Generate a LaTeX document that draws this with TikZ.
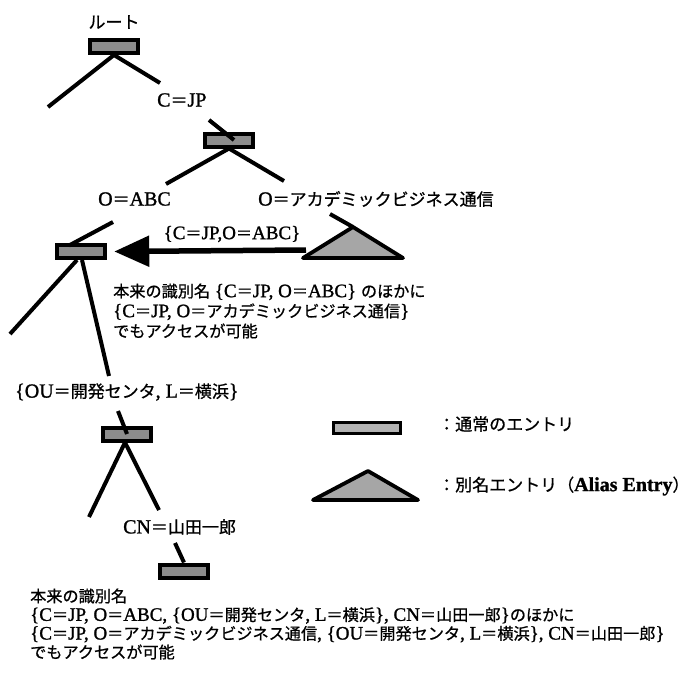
\documentclass[tikz,border=0pt]{standalone}
\usepackage{fontspec}
\setmainfont{Liberation Serif}[RawFeature={embolden=1.2}]
\newfontfamily\cjk{Noto Sans CJK JP}[Scale=0.85, RawFeature={embolden=0.8}]
\usetikzlibrary{arrows.meta,calc}
\newcommand\jp[1]{{\cjk #1}}
\newcommand\eqs{{\cjk ＝}}
\begin{document}
\begin{tikzpicture}[x=1pt,y=-1pt,
  entry/.style={draw=black, line width=4pt, fill=black!45, minimum width=48.5pt, minimum height=13pt, inner sep=0pt},
  branch/.style={line width=4pt},
  aliasent/.style={draw=black, line width=3.8pt, fill=black!35, line join=round},
  lbl/.style={font=\fontsize{20}{22}\selectfont, inner sep=0pt, anchor=west},
  note/.style={font=\fontsize{19}{20}\selectfont, inner sep=0pt, anchor=west, align=left},
]
\useasboundingbox (0,0) rectangle (699,681);

% labels and entries
\node[lbl, anchor=center] (lroot) at (114,22) {\jp{ルート}};
\node[entry] (b1) at (114,46.5) {};
\node[lbl] (lcjp) at (157,100) {C\eqs JP};
\node[entry] (b2) at (229,140) {};
\node[lbl] (labc) at (98,199) {O\eqs ABC};
\node[lbl] (laca) at (258,199) {O\eqs\jp{アカデミックビジネス通信}};
\node[entry] (b3) at (81,251.5) {};
\node[lbl, anchor=center, font=\fontsize{19}{22}\selectfont] (larrow) at (232,234) {\{C\eqs JP,O\eqs ABC\}};
\node[lbl] (lou) at (15,392) {\{OU\eqs\jp{開発センタ}, L\eqs\jp{横浜}\}};
\node[entry] (b4) at (127,434) {};
\node[lbl] (lcn) at (123,527) {CN\eqs\jp{山田一郎}};
\node[entry] (b5) at (184,571) {};

% alias entry triangle
\coordinate (t1a) at (353,227);
\coordinate (t1l) at (303,258);
\coordinate (t1r) at (403,258);
\draw[aliasent] (t1a) -- (t1r) -- (t1l) -- cycle;

% free ends of the branches
\coordinate (e1) at (48,107);
\coordinate (e2) at (160,83);
\coordinate (e3) at (209,120);
\coordinate (e4) at (166,184);
\coordinate (e5) at (284,181);
\coordinate (e6) at (330,214);
\coordinate (e7) at (113,222);
\coordinate (e8) at (10,334);
\coordinate (e9) at (109,376);
\coordinate (e10) at (118,411);
\coordinate (e11) at (89,517);
\coordinate (e12) at (159,510);
\coordinate (e13) at (175,543);
\coordinate (arrS) at (306,250);

\draw[branch] (b1.south) -- (e1);
\draw[branch] (b1.south) -- (e2);
\draw[branch] (e3) -- ($(b2.center)+(5,0)$);
\draw[branch] (b2.south) -- (e4);
\draw[branch] (b2.south) -- (e5);
\draw[branch] (e6) -- (t1a);
\draw[branch] (e7) -- ($(b3.center)+(-12,-6)$);
\draw[branch] ($(b3.south)+(-4,0)$) -- (e8);
\draw[branch] ($(b3.south)+(1,0)$) -- (e9);
\draw[branch] (e10) -- (b4.center);
\draw[branch] ($(b4.south)+(-2,0)$) -- (e11);
\draw[branch] ($(b4.south)+(-2,0)$) -- (e12);
\draw[branch] (e13) -- (b5.north);

% alias reference arrow
\draw[line width=5.5pt, -{Triangle[length=35pt,width=30pt]}] (arrS) -- ([xshift=7pt]b3.east);

% note near alias
\node[note] (note1) at (113,311) {\jp{本来の識別名} \{C\eqs JP, O\eqs ABC\} \jp{のほかに}\\
\{C\eqs JP, O\eqs\jp{アカデミックビジネス通信}\}\\
\jp{でもアクセスが可能}};

% legend
\node[entry, line width=2.8pt, minimum width=67pt, minimum height=11pt, fill=black!30] (lgbox) at (367,428) {};
\node[lbl] (lgt1) at (438,424) {\jp{：通常のエントリ}};
\coordinate (t2a) at (368,471);
\coordinate (t2l) at (313,500);
\coordinate (t2r) at (418,500);
\draw[aliasent] (t2a) -- (t2r) -- (t2l) -- cycle;
\node[lbl] (lgt2) at (438,486) {\jp{：別名エントリ（}\textbf{Alias Entry}\jp{）}};

% bottom note
\node[note, font=\fontsize{19}{18.7}\selectfont] (note2) at (30,624) {\jp{本来の識別名}\\
\{C\eqs JP, O\eqs ABC, \{OU\eqs\jp{開発センタ}, L\eqs\jp{横浜}\}, CN\eqs\jp{山田一郎}\}\jp{のほかに}\\
\{C\eqs JP, O\eqs\jp{アカデミックビジネス通信}, \{OU\eqs\jp{開発センタ}, L\eqs\jp{横浜}\}, CN\eqs\jp{山田一郎}\}\\
\jp{でもアクセスが可能}};
\end{tikzpicture}
\end{document}
